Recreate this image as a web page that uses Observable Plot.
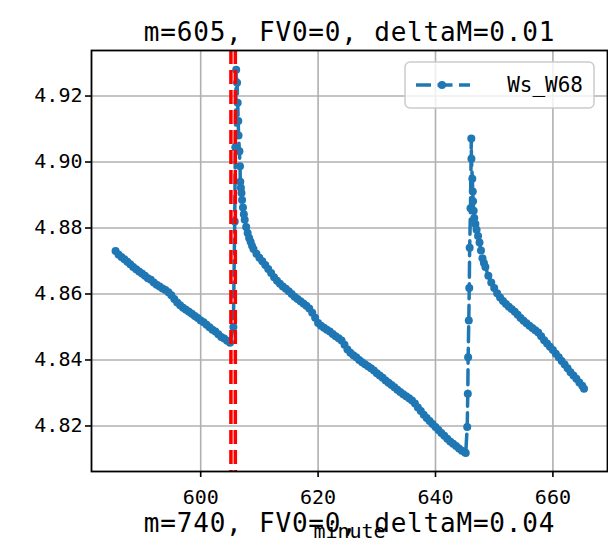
<!DOCTYPE html>
<html><head><meta charset="utf-8">
<script src="https://cdn.jsdelivr.net/npm/d3@7"></script>
<script src="https://cdn.jsdelivr.net/npm/@observablehq/plot@0.6"></script>
<style>body{margin:0;background:#fff}</style>
</head><body><div id="chart"></div>
<script>
const chartTitle = "m=605, FV0=0, deltaM=0.01";
const nextTitle = "m=740, FV0=0, deltaM=0.04";
const xLabel = "minute";
const seriesName = "Ws_W68";
const xTicks = [600, 620, 640, 660];
const yTicks = [4.82, 4.84, 4.86, 4.88, 4.90, 4.92];
const markerLines = [605.15, 605.9];

const minutes = [
585.5,586.0,586.5,587.0,587.5,588.0,588.5,589.0,589.5,590.0,
590.5,591.0,591.5,592.0,592.5,593.0,593.5,594.0,594.5,595.0,
595.5,596.0,596.5,597.0,597.5,598.0,598.5,599.0,599.5,600.0,
600.5,601.0,601.5,602.0,602.5,603.0,603.5,604.0,604.5,605.0,
605.57,605.8,605.9,606.05,606.2,606.3,606.4,606.45,606.6,606.7,606.75,606.85,606.95,607.05,607.2,607.35,
607.5,607.75,608.0,608.25,608.5,608.75,609.0,609.5,610.0,610.5,611.0,611.5,612.0,
612.5,613.0,613.5,614.0,614.5,615.0,615.5,616.0,616.5,617.0,
617.5,618.0,618.5,619.0,619.5,620.0,620.5,621.0,621.5,622.0,
622.5,623.0,623.5,624.0,624.5,625.0,625.5,626.0,626.5,627.0,
627.5,628.0,628.5,629.0,629.5,630.0,630.5,631.0,631.5,632.0,
632.5,633.0,633.5,634.0,634.5,635.0,635.5,636.0,636.5,637.0,
637.5,638.0,638.5,639.0,639.5,640.0,640.5,641.0,641.5,642.0,
642.5,643.0,643.5,644.0,644.5,645.0,
645.15,645.4,645.5,645.56,645.67,645.75,645.82,645.96,646.1,646.12,646.27,646.35,646.4,646.5,
646.6,646.8,647.0,647.25,647.5,647.75,648.0,648.25,648.5,649.0,649.5,650.0,650.5,651.0,
651.5,652.0,652.5,653.0,653.5,654.0,654.5,655.0,655.5,656.0,
656.5,657.0,657.5,658.0,658.5,659.0,659.5,660.0,660.5,661.0,
661.5,662.0,662.5,663.0,663.5,664.0,664.5,665.0,665.3
];
const values = [
4.8730,4.8720,4.8712,4.8705,4.8698,4.8690,4.8682,4.8675,4.8668,4.8662,
4.8655,4.8648,4.8643,4.8635,4.8628,4.8623,4.8617,4.8612,4.8605,4.8596,
4.8585,4.8574,4.8566,4.8558,4.8552,4.8546,4.8540,4.8533,4.8527,4.8520,
4.8514,4.8507,4.8499,4.8492,4.8486,4.8478,4.8470,4.8465,4.8458,4.8452,
4.8500,4.8820,4.9045,4.9280,4.9240,4.9180,4.9124,4.9080,4.9033,4.8987,4.8940,4.8922,4.8906,4.8885,4.8862,4.8842,
4.8825,4.8803,4.8785,4.8770,4.8758,4.8746,4.8736,4.8722,4.8710,4.8699,4.8688,4.8676,4.8664,
4.8651,4.8640,4.8631,4.8623,4.8616,4.8608,4.8600,4.8592,4.8585,4.8578,
4.8571,4.8564,4.8556,4.8543,4.8528,4.8512,4.8504,4.8498,4.8492,4.8486,
4.8479,4.8472,4.8466,4.8459,4.8446,4.8432,4.8422,4.8414,4.8408,4.8400,
4.8393,4.8387,4.8381,4.8375,4.8368,4.8360,4.8353,4.8346,4.8338,4.8331,
4.8324,4.8317,4.8310,4.8303,4.8296,4.8290,4.8284,4.8277,4.8268,4.8256,
4.8245,4.8234,4.8224,4.8215,4.8206,4.8197,4.8188,4.8179,4.8170,4.8161,
4.8153,4.8146,4.8139,4.8132,4.8125,4.8120,
4.8118,4.8197,4.8298,4.8408,4.8520,4.8618,4.8740,4.8860,4.9071,4.9010,4.8949,4.8911,4.8881,4.8852,
4.8830,4.8812,4.8795,4.8776,4.8756,4.8732,4.8708,4.8694,4.8682,4.8655,4.8635,4.8618,4.8602,4.8589,
4.8579,4.8570,4.8561,4.8554,4.8546,4.8537,4.8527,4.8519,4.8511,4.8504,
4.8497,4.8490,4.8483,4.8472,4.8460,4.8450,4.8440,4.8430,4.8419,4.8408,
4.8397,4.8386,4.8375,4.8363,4.8353,4.8343,4.8332,4.8322,4.8313
];

const data = minutes.map((m, i) => ({minute: m, value: values[i]}));
const FONT = "'DejaVu Sans Mono', monospace";
const blue = "#1f77b4";

const chart = Plot.plot({
  width: 608, height: 553,
  marginLeft: 91, marginRight: 1, marginTop: 50, marginBottom: 82,
  style: {fontFamily: FONT, fontSize: "20px", color: "black", background: "white"},
  x: {domain: [581.4, 669.3]},
  y: {domain: [4.8062, 4.9338]},
  marks: [
    Plot.gridX(xTicks, {stroke: "#b0b0b0", strokeOpacity: 1, strokeWidth: 1.6}),
    Plot.gridY(yTicks, {stroke: "#b0b0b0", strokeOpacity: 1, strokeWidth: 1.6}),
    Plot.line(data, {x: "minute", y: "value", stroke: blue, strokeWidth: 3.5, strokeDasharray: "15,6.5"}),
    Plot.dot(data, {x: "minute", y: "value", r: 4, fill: blue}),
    Plot.ruleX(markerLines, {stroke: "red", strokeWidth: 3.5, strokeDasharray: "14,6"}),
    Plot.frame({stroke: "black", strokeWidth: 1.8}),
    Plot.axisX(xTicks, {tickSize: 6, tickPadding: 12, label: null, fontSize: 20, strokeWidth: 1.6}),
    Plot.axisY(yTicks, {tickSize: 6, tickPadding: 3, label: null, fontSize: 20, strokeWidth: 1.6, tickFormat: d3.format(".2f")}),
    Plot.text([chartTitle], {frameAnchor: "top", dy: -28, fontSize: 26, fill: "black", style: "letter-spacing:0.8px"}),
    Plot.text([xLabel], {frameAnchor: "bottom", dy: 66, fontSize: 20, fill: "black"}),
    Plot.text([nextTitle], {frameAnchor: "bottom", dy: 60, fontSize: 26, fill: "black"})
  ]
});
document.getElementById("chart").appendChild(chart);

// letter spacing for the two titles
d3.select(chart).selectAll("text").filter(function() {
  const t = this.textContent; return t === chartTitle || t === nextTitle;
}).attr("letter-spacing", "0.8px");

// legend
const svg = d3.select(chart);
const lg = svg.append("g");
lg.append("rect").attr("x", 405).attr("y", 62).attr("width", 189).attr("height", 46)
  .attr("rx", 5).attr("fill", "white").attr("fill-opacity", 0.8)
  .attr("stroke", "#cccccc").attr("stroke-width", 1.5);
lg.append("line").attr("x1", 416).attr("x2", 470).attr("y1", 85).attr("y2", 85)
  .attr("stroke", blue).attr("stroke-width", 3.5).attr("stroke-dasharray", "15,6.5");
lg.append("circle").attr("cx", 442).attr("cy", 85).attr("r", 4).attr("fill", blue);
lg.append("text").attr("x", 583).attr("y", 85).attr("text-anchor", "end")
  .attr("dominant-baseline", "central").attr("font-family", FONT).attr("font-size", 21)
  .attr("fill", "black").text(seriesName);
</script>
</body></html>
